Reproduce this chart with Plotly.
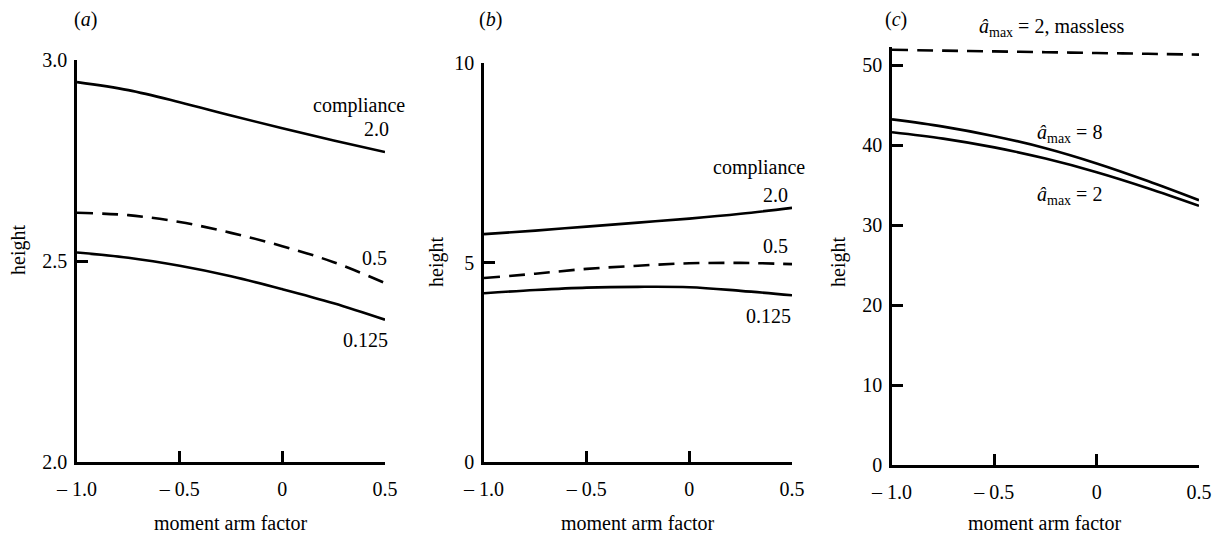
import plotly.graph_objects as go

W, H = 1218, 534
FONT = "Liberation Serif"

# ---------------- data ----------------
x_vals = [-1.0, -0.75, -0.5, -0.25, 0.0, 0.25, 0.5]

# panel (a)
a_c20 = [2.945, 2.925, 2.895, 2.862, 2.830, 2.800, 2.771]
a_c05 = [2.620, 2.614, 2.597, 2.570, 2.537, 2.497, 2.445]
a_c0125 = [2.521, 2.508, 2.488, 2.462, 2.430, 2.395, 2.354]

# panel (b)
b_c20 = [5.71, 5.80, 5.90, 6.00, 6.10, 6.22, 6.37]
b_c05 = [4.61, 4.72, 4.84, 4.92, 4.98, 4.99, 4.96]
b_c0125 = [4.23, 4.31, 4.37, 4.39, 4.38, 4.29, 4.18]

# panel (c)
c_massless = [51.9, 51.8, 51.7, 51.6, 51.5, 51.4, 51.3]
c_amax8 = [43.2, 42.3, 41.1, 39.6, 37.7, 35.5, 33.1]
c_amax2 = [41.6, 40.8, 39.7, 38.3, 36.6, 34.6, 32.4]

x_tickvals = [-1.0, -0.5, 0.0, 0.5]
x_ticktext = ["\u2013 1.0", "\u2013 0.5", "0", "0.5"]
a_tickvals = [2.0, 2.5, 3.0]
a_ticktext = ["2.0", "2.5", "3.0"]
b_tickvals = [0, 5, 10]
b_ticktext = ["0", "5", "10"]
c_tickvals = [0, 10, 20, 30, 40, 50]
c_ticktext = ["0", "10", "20", "30", "40", "50"]


def px(x):
    return x / W


def py(y):
    return 1 - y / H


fig = go.Figure()

solid = dict(color="black", width=2.6, shape="spline")
dashed = dict(color="black", width=2.6, dash="16px,9px", shape="spline")

fig.add_trace(go.Scatter(x=x_vals, y=a_c20, mode="lines", line=solid, xaxis="x", yaxis="y"))
fig.add_trace(go.Scatter(x=x_vals, y=a_c05, mode="lines", line=dashed, xaxis="x", yaxis="y"))
fig.add_trace(go.Scatter(x=x_vals, y=a_c0125, mode="lines", line=solid, xaxis="x", yaxis="y"))

fig.add_trace(go.Scatter(x=x_vals, y=b_c20, mode="lines", line=solid, xaxis="x2", yaxis="y2"))
fig.add_trace(go.Scatter(x=x_vals, y=b_c05, mode="lines", line=dashed, xaxis="x2", yaxis="y2"))
fig.add_trace(go.Scatter(x=x_vals, y=b_c0125, mode="lines", line=solid, xaxis="x2", yaxis="y2"))

fig.add_trace(go.Scatter(x=x_vals, y=c_massless, mode="lines", line=dashed, xaxis="x3", yaxis="y3"))
fig.add_trace(go.Scatter(x=x_vals, y=c_amax8, mode="lines", line=solid, xaxis="x3", yaxis="y3"))
fig.add_trace(go.Scatter(x=x_vals, y=c_amax2, mode="lines", line=solid, xaxis="x3", yaxis="y3"))

tickfont = dict(family=FONT, size=20, color="black")
common = dict(showline=True, linewidth=2.5, linecolor="black", ticks="inside",
              ticklen=11, tickwidth=2.5, tickcolor="black", showgrid=False,
              zeroline=False, tickfont=tickfont, fixedrange=True, automargin=False)

xax = dict(common, range=[-1.0, 0.5], tickvals=x_tickvals, ticktext=x_ticktext,
           ticklabelstandoff=7)

fig.update_layout(
    width=W, height=H,
    margin=dict(l=0, r=0, t=0, b=0, autoexpand=False),
    paper_bgcolor="white", plot_bgcolor="white",
    showlegend=False,
    xaxis=dict(xax, domain=[px(77), px(385)], anchor="y"),
    yaxis=dict(common, domain=[py(462), py(60)], range=[2.0, 3.0], anchor="x",
               tickvals=a_tickvals, ticktext=a_ticktext, ticklabelstandoff=3),
    xaxis2=dict(xax, domain=[px(484), px(792)], anchor="y2"),
    yaxis2=dict(common, domain=[py(462), py(63)], range=[0, 10], anchor="x2",
                tickvals=b_tickvals, ticktext=b_ticktext, ticklabelstandoff=3),
    xaxis3=dict(xax, domain=[px(892), px(1199)], anchor="y3"),
    yaxis3=dict(common, domain=[py(465), py(47)], range=[0, 52.25], anchor="x3",
                tickvals=c_tickvals, ticktext=c_ticktext, ticklabelstandoff=3),
)

tf = dict(family=FONT, size=20, color="black")


def ann(text, x, y, xanchor="center", yanchor="middle", textangle=0):
    fig.add_annotation(text=text, x=px(x), y=py(y), xref="paper", yref="paper",
                       xanchor=xanchor, yanchor=yanchor, showarrow=False,
                       font=tf, textangle=textangle)


# panel letters
ann("(<i>a</i>)", 85, 20)
ann("(<i>b</i>)", 490, 20)
ann("(<i>c</i>)", 896, 20)

# axis titles
for xc in (231, 638, 1045):
    ann("moment arm factor", xc, 523)
ann("height", 18, 250, textangle=-90)
ann("height", 436, 262, textangle=-90)
ann("height", 838, 262, textangle=-90)

# panel (a) labels
ann("compliance", 407, 105, xanchor="right")
ann("2.0", 391, 129, xanchor="right")
ann("0.5", 389, 258, xanchor="right")
ann("0.125", 390, 340, xanchor="right")

# panel (b) labels
ann("compliance", 807, 167, xanchor="right")
ann("2.0", 790, 195, xanchor="right")
ann("0.5", 790, 246, xanchor="right")
ann("0.125", 793, 316, xanchor="right")

# panel (c) labels
ann("<i>\u00e2</i><sub>max</sub> = 2, massless", 977, 27, xanchor="left")
ann("<i>\u00e2</i><sub>max</sub> = 8", 1035, 133, xanchor="left")
ann("<i>\u00e2</i><sub>max</sub> = 2", 1035, 195, xanchor="left")

fig.write_html(
    "out.html",
    config={"displayModeBar": False},
    post_script="document.body.style.margin='0';document.body.style.overflow='hidden';",
)
